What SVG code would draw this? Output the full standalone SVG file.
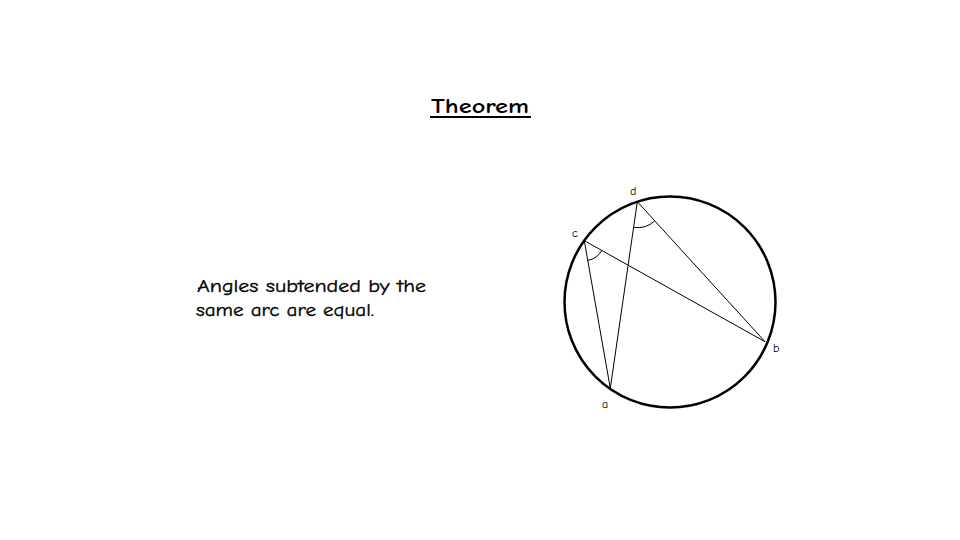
<svg xmlns="http://www.w3.org/2000/svg" width="960" height="540" viewBox="0 0 960 540">
<style>
.t{font-family:"Comic Neue","DejaVu Sans","Liberation Sans",sans-serif;fill:#000}
.lab{font-family:"Comic Neue","DejaVu Sans","Liberation Sans",sans-serif;font-size:12px;fill:#000}
.ln{stroke:#000;stroke-width:1;fill:none}
</style>
<rect width="960" height="540" fill="#fff"/>
<g id="title">
<text class="t" x="431" y="113" font-size="21" font-weight="bold" textLength="98" lengthAdjust="spacingAndGlyphs">Theorem</text>
<line x1="430" y1="117" x2="531" y2="117" stroke="#000" stroke-width="2"/>
</g>
<g id="statement">
<text class="t" x="197" y="292" font-size="19" stroke="#000" stroke-width="0.35" textLength="229" lengthAdjust="spacingAndGlyphs">Angles subtended by the</text>
<text class="t" x="196" y="316" font-size="19" stroke="#000" stroke-width="0.35" textLength="178" lengthAdjust="spacingAndGlyphs">same arc are equal.</text>
</g>
<g id="circle">
<circle cx="670" cy="302" r="105.5" fill="none" stroke="#000" stroke-width="2.5"/>
</g>
<g id="connectors">
<line class="ln" x1="637.3" y1="201.7" x2="610.3" y2="388.3"/>
<line class="ln" x1="637.3" y1="201.7" x2="765" y2="341.7"/>
<line class="ln" x1="584.3" y1="240.7" x2="610.3" y2="388.3"/>
<line class="ln" x1="584.3" y1="240.7" x2="765" y2="341.7"/>
<path class="ln" d="M633.6,227.4 A26,26 0 0 0 654.8,220.9"/>
<path class="ln" d="M587.8,260.4 A20,20 0 0 0 601.8,250.5"/>
</g>
<g id="labels">
<text class="lab" x="630" y="195">d</text>
<text class="lab" x="572" y="237">c</text>
<text class="lab" x="773" y="352">b</text>
<text class="lab" x="602" y="408">a</text>
</g>
</svg>
